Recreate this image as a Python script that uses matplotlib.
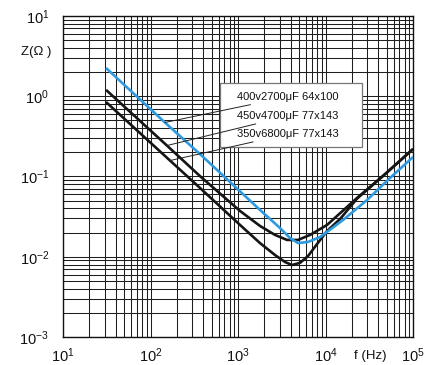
import matplotlib
matplotlib.use("Agg")
import matplotlib.pyplot as plt
from matplotlib.patches import Rectangle

plt.rcParams['font.family'] = ['Liberation Sans', 'DejaVu Sans']
plt.rcParams['mathtext.fontset'] = 'custom'
plt.rcParams['mathtext.rm'] = 'Liberation Sans'
plt.rcParams['mathtext.it'] = 'Liberation Sans:italic'
plt.rcParams['mathtext.bf'] = 'Liberation Sans:bold'
plt.rcParams['axes.unicode_minus'] = False

# ---- data ----
labels = ["400v2700μF 64x100", "450v4700μF 77x143", "350v6800μF 77x143"]

f_blue = [31, 146, 368, 1783, 3020, 3928, 4851, 6310, 8650, 15850, 29800, 54600, 100000]
z_blue = [2.25, 0.471, 0.190, 0.0383, 0.0228, 0.0171, 0.0148, 0.0153, 0.0176, 0.0287, 0.0509, 0.0958, 0.175]

f_black1 = [31, 154, 368, 1054, 1783, 2649, 3631, 4851, 6650, 10400, 22900, 47900, 100000]
z_black1 = [1.20, 0.243, 0.101, 0.0372, 0.0242, 0.0187, 0.0162, 0.0162, 0.0187, 0.0249, 0.0540, 0.107, 0.220]

f_black2 = [31, 167, 368, 1054, 1783, 2649, 3444, 4141, 5114, 6310, 7998, 10400, 14650, 22900, 47900, 100000]
z_black2 = [0.848, 0.158, 0.0719, 0.0249, 0.0148, 0.0105, 0.0086, 0.00789, 0.0084, 0.0102, 0.0144, 0.0209, 0.0295, 0.053, 0.107, 0.220]

xlim = (10, 1e5)
ylim = (1e-3, 10)

fig = plt.figure(figsize=(4.34, 3.65), dpi=100)
ax = fig.add_axes([0.1452, 0.0767, 0.8065, 0.8795])

ax.set_xscale('log')
ax.set_yscale('log')
ax.set_xlim(*xlim)
ax.set_ylim(*ylim)

ax.grid(which='both', color='#1e1e1e', lw=0.75, zorder=0)
ax.set_axisbelow(True)

ax.plot(f_black2, z_black2, color='#151515', lw=1.9, zorder=3, solid_capstyle='butt')
ax.plot(f_black1, z_black1, color='#151515', lw=1.9, zorder=3, solid_capstyle='butt')
ax.plot(f_blue, z_blue, color='#2e9ae0', lw=1.9, zorder=4, solid_capstyle='butt')

ax.tick_params(which='both', length=0, labelsize=10.5, labelcolor='#111111')
ax.tick_params(axis='x', pad=7)
ax.tick_params(axis='y', pad=10)
for s in ax.spines.values():
    s.set_color('#111111')
    s.set_linewidth(1.0)

# legend box
box = Rectangle((0.449, 0.592), 0.405, 0.199, transform=ax.transAxes,
                facecolor='white', edgecolor='#777777', lw=0.9, zorder=5)
ax.add_patch(box)

targets = [(f_blue[1], z_blue[1]), (f_black1[1], z_black1[1]), (f_black2[1], z_black2[1])]
ty = [0.748, 0.688, 0.632]
for lab, (fx, zy), yy in zip(labels, targets, ty):
    ax.annotate(lab, xy=(fx, zy), xycoords='data',
                xytext=(0.497, yy), textcoords='axes fraction',
                fontsize=8, color='#111111', ha='left', va='center', zorder=6,
                arrowprops=dict(arrowstyle='-', color='#222222', lw=0.7,
                                shrinkA=0, shrinkB=0))

fig.text(0.083, 0.858, "Z(Ω )", fontsize=9.5, ha='center', va='center', color='#111111')
fig.text(0.853, 0.024, "f (Hz)", fontsize=9.5, ha='center', va='center', color='#111111')

fig.savefig("out.png", dpi=100, facecolor='white')
